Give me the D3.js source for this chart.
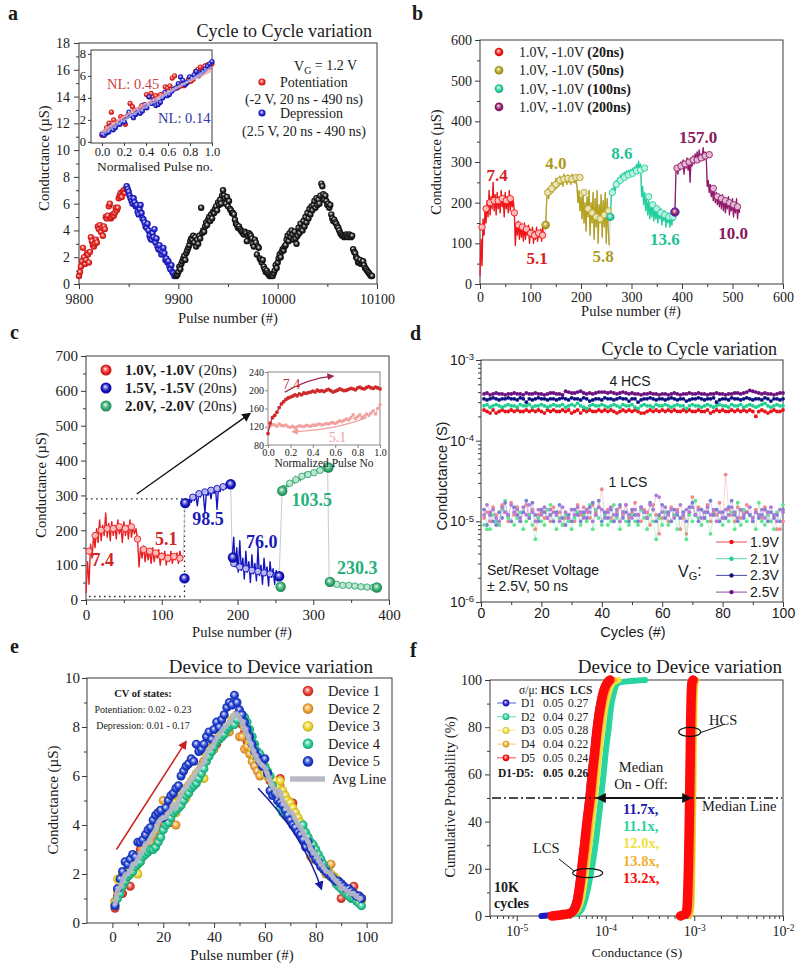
<!DOCTYPE html>
<html><head><meta charset="utf-8">
<script src="https://cdn.jsdelivr.net/npm/d3@7/dist/d3.min.js"></script>
<style>html,body{margin:0;padding:0;background:#fff;}svg{display:block;}</style>
</head><body>
<script>
// ================= DATA =================
// ---- Panel a ----
const aRedStart = 9800, aBlueStart = 9848, aBlackStart = 9898;
const aRed = [0.6,0.9,1.3,1.7,2.7,2.0,1.5,1.8,2.3,2.2,
  1.6,2.4,3.5,3.2,2.9,2.8,3.0,3.3,3.1,4.3,
  4.1,4.4,3.9,4.2,3.6,4.3,4.1,5.0,4.9,5.1,
  5.8,6.0,4.9,5.0,5.2,5.1,5.3,5.7,5.5,5.7,
  6.4,6.6,6.8,6.5,6.9,7.0,6.8,7.1];
const aBlue = [7.3,7.1,6.9,6.6,6.4,6.2,6.0,6.4,6.1,5.8,
  5.9,5.4,5.2,5.6,5.9,5.3,4.9,4.8,4.6,4.3,
  4.2,4.5,4.0,3.6,3.4,3.3,3.8,3.5,4.1,3.1,
  3.4,2.8,2.6,2.9,2.5,2.2,2.4,2.7,2.3,1.8,
  1.9,1.6,1.7,1.3,1.1,1.4,0.9,0.8,0.6,0.7];
const aBlack = [0.6,0.7,0.9,1.3,1.1,1.5,1.7,1.9,2.1,1.8,
  2.3,2.5,2.7,2.9,3.2,3.4,3.3,3.6,3.1,3.5,
  2.8,3.3,3.0,3.6,3.4,5.7,3.8,4.0,3.9,4.3,
  4.6,4.4,4.8,5.0,4.7,5.2,4.9,5.4,5.3,5.6,
  5.8,5.5,6.1,5.9,6.3,6.0,6.6,7.0,6.6,6.4,
  6.0,6.5,5.8,6.2,5.6,5.5,5.3,5.3,5.2,4.8,
  4.5,4.4,4.2,4.3,4.1,4.0,3.9,3.8,3.7,3.9,
  3.8,3.2,3.6,3.8,3.7,3.6,3.4,3.0,2.8,3.3,
  3.1,2.2,2.8,2.7,1.9,1.8,1.6,1.8,1.3,1.1,
  0.9,1.0,0.8,0.7,0.6,0.6,0.7,0.6,0.8,1.0,
  1.4,1.2,1.6,1.9,2.2,2.0,2.4,2.6,2.5,2.8,
  2.9,3.3,3.6,3.2,3.8,3.5,4.0,3.7,3.3,3.9,
  3.4,3.0,3.6,4.2,3.8,4.5,4.1,4.0,4.7,4.3,
  5.0,4.6,5.3,4.9,5.6,5.2,5.8,5.5,5.9,6.2,
  5.7,6.4,5.9,6.3,6.0,6.6,7.5,7.3,6.7,6.3,
  6.6,6.2,5.9,6.0,5.7,5.9,5.2,4.9,4.7,4.8,
  4.6,4.5,4.3,4.2,4.0,3.8,3.7,3.6,3.6,3.5,
  3.6,3.7,3.6,3.5,3.7,3.6,3.5,3.6,2.6,2.4,
  2.3,2.0,1.9,1.6,1.6,1.8,1.5,1.6,1.7,1.4,
  1.2,1.1,1.0,0.9,0.8,0.7,0.6,0.6];
const aFitX = [0, 0.25, 0.5, 0.75, 1];
const aFitRed = [0.9, 2.6, 4.0, 5.3, 6.5];
const aFitBlue = [0.7, 2.3, 3.8, 5.3, 6.8];
const aXTicks = [9800, 9900, 10000, 10100], aXMinor = [9850, 9950, 10050];
const aYTicks = [0,2,4,6,8,10,12,14,16,18], aYMinor = [1,3,5,7,9,11,13,15,17];
const aInsXTicks = [0,0.2,0.4,0.6,0.8,1.0], aInsYTicks = [0,2,4,6,8];

// ---- Panel b ----
const STEP = 2, MSTEP = 8;
const bRed = [20,110,45,160,120,185,150,205,165,230,
  170,215,185,250,180,220,170,225,185,215,
  175,230,190,210,165,225,185,215,175,230,
  180,210,190,205,175,95,150,120,155,110,
  145,115,140,105,150,110,135,120,145,100,
  135,115,140,100,130,110,140,105,125,115,
  135,105,140,115,125];
const bRedMk = [140,185,200,205,205,210,205,210,175,145,140,135,125,120,125,120];
const bOlive = [145,205,235,210,240,220,250,225,245,230,
  260,235,255,240,265,245,260,240,270,250,
  262,245,268,250,260,245,270,250,262,248,
  260,240,200,230,180,215,160,225,150,200,
  130,215,165,230,120,200,150,225,110,210,
  140,230,100,195,150,220,115,205,140,225,
  100,210,130,95];
const bOliveMk = [225,235,245,255,258,260,258,262,262,225,185,175,165,160,170,180];
const bTeal = [165,215,235,220,245,230,255,240,262,245,
  268,250,272,258,275,260,278,262,280,265,
  282,268,285,270,288,275,295,280,302,285,
  295,215,240,195,225,180,215,170,205,160,
  200,165,195,155,190,160,185,150,180,160,
  185,145,175,155,180,140,170,150,175,140,
  165,145,175,155];
const bTealMk = [225,245,255,262,268,272,278,280,285,215,195,185,175,170,165,165];
const bPurple = [175,275,290,270,295,280,300,285,305,270,
  300,285,310,280,305,250,310,290,315,295,
  320,300,325,300,330,305,320,310,335,305,
  325,315,240,255,225,245,215,235,205,230,
  200,225,195,220,190,215,185,220,180,210,
  175,205,185,215,170,200,180,210,165,195,
  175,210,160,195,175];
const bPurpleMk = [285,290,295,300,305,305,310,315,318,235,215,210,205,200,195,190];
const bStarts = [0, 130, 258, 386], bMkStarts = [4, 134, 262, 390];
const bSphX = [130, 258, 386], bSphY = [145, 165, 177];
const bLabels = ["7.4","5.1","4.0","5.8","8.6","13.6","157.0","10.0"];
const bLabX = [34, 113, 150, 244, 281, 366, 432, 501];
const bLabY = [268, 64, 297, 69, 322, 111, 361, 125];
const bLegend = ["(20ns)","(50ns)","(100ns)","(200ns)"];
const bTicks = [0,100,200,300,400,500,600], bMinor = [50,150,250,350,450,550];

// ---- Panel c ----
const cBlueHi = [275,285,270,290,280,295,285,300,270,305,
  295,310,300,250,310,300,315,290,320,305,
  320,260,325,310,325,315,330,320,335,320,330];
const cBlueHiMk = [280,295,305,310,315,320,325,332];
const cBlueLo = [120,180,95,150,80,170,85,120,60,140,
  80,110,50,130,75,105,55,150,70,100,
  45,120,70,95,40,110,65,90,45,85,55,70];
const cBlueLoMk = [105,95,90,85,82,78,75,70];
const cGreenHi = [315,325,318,330,325,340,332,345,335,355,
  345,350,342,360,350,365,352,360,355,368,
  358,370,362,375,365,372,368,380,370,382,378];
const cGreenHiMk = [320,335,345,355,360,365,372,378];
const cGreenLo = [50,45,52,42,48,40,47,38,45,42,
  36,44,40,35,43,38,45,36,40,34,
  42,36,40,33,38,35,40,32,37,34,38,33];
const cGreenLoMk = [48,45,42,42,40,38,37,36];
const cStarts = [0, 131, 193, 259, 321], cMkStarts = [4, 133, 195, 261, 323];
const cSphX = [130, 131, 191, 194, 255, 257, 259, 320, 322, 384];
const cSphY = [62, 278, 332, 122, 68, 38, 313, 380, 52, 36];
const cSphC = [1, 1, 1, 1, 1, 2, 2, 2, 2, 2];
const cBoxX = [0, 130], cBoxY = [10, 290];
const cArrowX = [67, 216], cArrowY = [304, 534];
const cLabels = ["7.4","5.1","98.5","76.0","103.5","230.3"];
const cLabX = [22, 106, 161, 232, 298, 358];
const cLabY = [115, 175, 232, 166, 287, 92];
const cLabC = [0, 0, 1, 1, 2, 2];
const cLegendBold = ["1.0V, -1.0V","1.5V, -1.5V","2.0V, -2.0V"];
const cTicksX = [0,100,200,300,400], cMinorX = [50,150,250,350];
const cTicksY = [0,100,200,300,400,500,600,700], cMinorY = [50,150,250,350,450,550,650];
const cInsStep = 0.02;
const cInsRed = [105,128,140,145,152,162,170,175,180,183,
  185,187,190,188,192,190,194,193,195,196,
  198,196,200,198,199,197,200,202,199,196,
  198,200,203,201,199,200,202,204,203,201,
  205,207,204,203,206,208,205,204,207,205,203];
const cInsPink = [118,122,125,124,121,126,123,122,124,120,
  119,121,118,120,122,121,120,123,122,121,
  124,123,125,126,124,125,127,126,128,129,
  127,130,133,131,134,137,135,140,146,138,
  142,146,140,143,148,145,150,155,148,160,168];
const cInsXTicks = [0,0.2,0.4,0.6,0.8,1.0], cInsYTicks = [80,120,160,200,240];

// ---- Panel d ---- (HCS in 1e-4 S, LCS in 1e-5 S)
const dHcs19 = [2.4,2.3,2.2,2.4,2.2,2.3,2.4,2.3,2.3,2.4, 2.3,2.4,2.3,2.3,2.4,2.3,2.4,2.3,2.4,2.3,
  2.2,2.4,2.3,2.4,2.3,2.3,2.4,2.3,2.4,2.2, 2.3,2.4,2.2,2.4,2.3,2.4,2.3,2.3,2.4,2.3,
  2.4,2.3,2.4,2.3,2.2,2.3,2.4,2.3,2.4,2.3, 2.4,2.3,2.2,2.2,2.3,2.4,2.3,2.4,2.3,2.4,
  2.3,2.4,2.3,2.4,2.3,2.3,2.4,2.3,2.4,2.3, 2.3,2.4,2.3,2.3,2.4,2.2,2.3,2.4,2.3,2.4,
  2.3,2.3,2.4,2.3,2.4,2.3,2.4,2.3,2.4,2.3, 2.0,2.3,2.4,2.3,2.2,2.3,2.4,2.3,2.3,2.4];
const dHcs21 = [2.7,2.8,2.6,2.7,2.8,2.7,2.6,2.7,2.8,2.7, 2.7,2.6,2.8,2.7,2.7,2.8,2.6,2.7,2.7,2.8,
  2.7,2.6,2.7,2.8,2.7,2.7,2.8,2.6,2.7,2.8, 2.7,2.9,2.7,2.6,2.5,2.7,2.8,2.7,2.7,2.8,
  2.7,2.6,2.7,2.8,2.7,2.6,2.8,2.7,2.7,2.8, 2.6,2.5,2.7,2.8,2.7,2.7,2.6,2.8,2.7,2.7,
  2.8,2.7,2.6,2.7,2.8,2.7,2.7,2.5,2.7,2.8, 2.7,2.7,2.6,2.7,2.8,2.7,2.6,2.7,2.8,2.7,
  2.7,2.6,2.8,2.7,2.7,2.8,2.6,2.7,2.8,2.7, 2.6,2.7,2.8,2.9,2.7,2.6,2.7,2.8,2.7,2.7];
const dHcs23 = [3.3,3.2,3.3,3.4,3.3,3.2,3.3,3.3,3.4,3.3, 3.3,3.2,3.4,3.3,3.0,3.3,3.2,3.3,3.4,3.3,
  3.3,3.2,3.3,3.3,3.2,3.3,3.4,3.3,3.2,3.4, 3.3,3.3,3.2,3.4,3.3,3.1,3.2,3.3,3.3,3.2,
  3.4,3.3,3.3,3.2,3.3,3.4,3.3,3.3,3.1,3.3, 3.3,3.0,3.2,3.3,3.3,3.4,3.3,3.2,3.3,3.3,
  3.2,3.3,3.4,3.3,3.2,3.3,3.3,3.1,3.2,3.3, 3.3,3.4,3.3,3.2,3.3,3.3,3.4,3.0,3.2,3.3,
  3.3,3.2,3.4,3.3,3.3,3.2,3.3,3.4,3.3,3.2, 3.3,3.3,3.2,3.4,3.3,3.1,3.3,3.3,3.2,3.3];
const dHcs25 = [3.8,3.9,3.7,3.8,3.9,3.8,3.8,3.7,3.8,3.8, 3.9,3.8,3.8,3.7,3.9,3.8,3.8,3.9,3.8,3.8,
  3.7,3.8,3.9,3.9,3.8,3.8,3.7,4.1,4.0,3.9, 3.9,4.0,4.1,3.9,3.8,3.9,3.8,3.9,4.0,4.0,
  4.0,3.9,4.0,3.9,3.8,3.9,4.0,3.9,3.8,3.9, 3.8,3.8,3.7,3.8,3.8,3.9,3.8,3.8,3.7,3.8,
  3.8,3.7,3.8,3.9,3.8,3.7,3.8,3.8,3.9,3.8, 3.8,3.9,3.8,3.8,3.7,3.8,3.8,3.9,3.8,3.8,
  3.7,3.8,3.8,3.9,3.9,3.8,3.9,4.0,4.2,4.1, 4.0,3.9,3.8,3.9,3.8,3.8,3.7,3.8,3.9,3.9];
const dLcs19 = [1.1,1.3,1.0,1.5,1.2,0.9,1.6,1.3,1.0,1.7, 1.2,1.5,1.0,1.3,1.6,1.1,1.4,0.8,1.2,1.3,
  1.1,1.4,1.0,1.5,1.2,1.3,0.9,1.1,1.2,1.4, 1.0,1.6,1.2,1.5,1.3,1.1,1.6,1.3,1.5,2.5,
  1.2,1.4,1.1,1.0,1.3,1.5,1.2,1.6,1.1,1.3, 1.7,1.2,1.0,1.4,1.3,0.9,1.6,1.2,0.7,1.1,
  1.3,1.0,1.5,1.2,1.4,0.8,1.1,0.7,1.3,2.0, 1.2,1.5,1.4,1.1,1.6,1.0,1.3,1.2,1.7,1.1,
  3.8,1.4,1.2,1.0,1.5,1.1,1.3,1.6,1.2,1.0, 1.4,1.2,1.1,1.5,1.3,1.0,1.2,0.8,0.8,1.0];
const dLcs21 = [0.9,0.8,0.8,1.2,1.0,0.9,1.4,1.8,1.1,1.0, 0.9,1.1,1.3,0.8,1.0,1.2,0.9,0.6,1.1,1.0,
  0.9,1.4,1.6,1.0,0.8,1.1,0.9,1.2,1.0,0.8, 1.1,1.3,0.9,1.2,1.0,1.6,0.8,1.4,1.1,0.9,
  1.2,0.9,1.0,1.6,1.1,0.8,1.3,1.0,0.9,1.2, 1.0,0.9,1.4,1.1,0.8,1.2,1.0,0.6,1.1,0.9,
  1.3,0.9,1.0,1.2,0.8,1.1,1.3,0.6,1.2,1.0, 1.8,1.1,0.9,1.3,1.0,0.7,1.2,1.4,1.0,0.9,
  1.1,1.0,1.3,0.8,1.7,0.9,1.4,1.0,1.2,1.1, 0.8,1.7,1.0,0.9,1.2,1.0,0.8,1.3,1.4,1.6];
const dLcs23 = [1.4,0.9,1.2,1.0,0.9,1.3,1.1,1.7,1.2,1.0, 1.5,1.2,1.0,1.3,1.8,1.1,1.7,1.2,1.0,1.4,
  1.3,1.1,1.2,1.0,1.3,1.6,1.1,0.9,1.2,1.0, 1.4,1.2,1.0,1.3,1.1,1.5,1.7,1.2,1.8,1.0,
  1.3,1.1,1.4,1.0,1.2,1.6,1.1,1.3,1.0,1.4, 1.2,1.0,1.5,1.3,1.1,1.7,1.4,1.0,1.2,1.6,
  1.1,1.3,1.0,1.4,1.2,1.1,1.3,1.0,1.5,1.7, 1.2,1.0,1.4,1.1,1.3,1.8,1.2,1.4,1.0,1.3,
  1.1,1.5,1.8,1.2,1.0,1.4,1.1,1.3,1.2,1.0, 1.3,1.1,1.2,1.4,1.0,1.3,1.1,1.2,1.0,1.4];
const dLcs25 = [1.2,1.6,1.3,1.4,1.1,1.0,1.5,1.3,1.2,1.6, 1.3,1.4,1.1,1.5,1.2,1.6,1.3,1.0,1.4,1.2,
  1.5,1.1,1.4,1.3,1.2,1.0,1.5,1.3,1.1,1.4, 1.2,1.5,1.3,1.1,1.4,1.3,1.0,1.2,1.5,1.4,
  1.1,1.3,1.5,1.2,1.4,1.0,1.3,1.6,1.2,1.1, 1.4,1.2,1.5,1.3,1.1,1.6,1.4,2.1,2.0,1.3,
  1.5,1.2,1.4,1.1,1.3,1.6,1.2,1.4,1.3,1.5, 1.2,1.4,1.1,1.3,1.5,1.2,1.4,1.0,1.3,1.1,
  1.4,1.2,1.5,1.3,1.1,1.4,1.2,1.3,1.5,1.1, 1.3,1.2,1.4,1.1,1.3,1.5,1.2,1.0,1.4,1.3];
const dHcsUnit = 1e-4, dLcsUnit = 1e-5;
const dLegend = ["1.9V","2.1V","2.3V","2.5V"];
const dXTicks = [0,20,40,60,80,100], dXMinor = [10,30,50,70,90];
const dYTicks = [1e-6,1e-5,1e-4,1e-3];

// ---- Panel e ----
const eD1 = [0.6,1.1,1.3,1.2,1.6,1.9,1.5,2.4,2.5,2.7, 3.0,2.9,3.2,3.3,3.5,3.6,3.8,3.9,4.1,4.0,
  4.3,4.4,4.1,4.7,4.8,5.0,5.0,5.3,5.4,5.6, 5.7,5.9,6.0,6.2,6.3,6.6,6.8,6.9,7.0,7.2,
  7.3,7.5,7.6,7.8,7.9,8.0,8.2,8.4,8.5,8.4, 8.1,7.8,7.4,7.2,7.0,6.8,6.6,6.5,6.4,6.2,
  6.0,5.8,5.6,5.4,5.2,5.9,5.0,4.8,4.7,4.6, 4.9,4.4,4.2,4.0,3.7,3.5,3.3,3.1,2.9,2.7,
  2.5,2.4,2.3,2.1,2.0,1.9,1.8,1.7,1.6,1.0, 1.4,1.3,1.3,1.2,1.5,1.1,1.1,1.0];
const eD2 = [0.9,1.3,1.4,1.8,1.9,2.0,2.2,2.3,2.4,2.6, 2.8,3.0,3.2,3.4,3.3,3.6,3.8,4.3,4.4,5.0,
  4.4,4.6,4.8,4.9,4.0,5.0,5.2,5.4,5.5,5.6, 5.6,5.8,5.9,6.2,6.4,6.6,6.8,7.0,7.2,7.1,
  7.4,7.6,7.8,7.9,8.0,7.8,8.2,8.4,8.5,7.6, 7.6,7.1,7.2,6.9,6.6,6.4,6.2,6.0,6.5,6.3,
  6.1,5.9,5.6,5.5,5.3,5.6,5.2,5.1,4.9,4.7, 4.6,4.3,4.1,3.9,3.8,3.5,3.2,2.7,2.6,2.9,
  2.5,2.3,2.2,2.0,2.3,2.4,1.9,1.8,1.7,1.6, 1.5,1.4,1.3,1.2,1.2,1.1,1.1,1.0];
const eD3 = [0.8,1.8,1.6,2.0,2.1,1.9,2.2,2.4,2.2,2.0, 2.5,2.8,3.4,3.0,3.6,3.8,3.9,4.5,4.6,4.3,
  4.2,4.4,4.6,4.9,4.5,4.7,5.3,5.4,5.1,5.6, 5.8,5.9,6.1,6.2,6.3,5.9,6.8,7.0,7.1,7.3,
  7.5,7.7,7.9,8.0,7.9,8.0,8.3,8.4,8.4,8.6, 8.4,8.0,7.8,7.4,7.1,6.8,6.7,6.6,6.3,6.1,
  6.0,5.9,5.7,5.8,5.6,5.8,5.4,5.2,5.0,4.9, 4.7,4.5,4.3,4.1,3.8,3.6,3.4,3.2,3.0,2.8,
  2.7,2.5,2.4,2.2,2.1,2.0,1.9,1.8,1.6,1.5, 1.4,1.3,1.2,1.2,1.1,1.1,1.0,0.9];
const eD4 = [0.7,1.0,1.2,1.5,1.7,1.9,2.0,2.1,2.3,2.4, 2.5,2.7,2.8,2.9,3.0,3.0,3.1,3.3,3.5,3.8,
  4.0,4.1,4.3,4.5,4.6,4.7,4.8,5.0,5.2,5.3, 5.5,5.6,5.7,5.9,6.1,6.3,6.6,6.8,7.0,7.2,
  7.4,7.5,7.6,7.7,7.9,8.0,8.1,8.1,8.3,8.5, 8.5,8.4,8.2,7.9,7.6,7.3,7.0,6.9,6.6,6.4,
  6.2,6.0,5.6,5.3,5.0,4.7,4.5,4.4,4.3,4.2, 4.1,4.0,3.9,3.8,4.0,3.7,3.5,3.3,3.2,3.0,
  2.8,2.6,2.4,2.2,2.0,1.9,1.8,1.6,1.5,1.4, 1.3,1.2,1.1,1.0,1.0,0.9,0.8,0.7];
const eD5 = [0.7,1.4,1.8,2.1,2.5,2.4,2.6,2.8,2.7,3.3, 3.3,3.4,3.6,3.8,3.9,4.2,4.4,4.5,4.6,4.3,
  4.7,5.0,5.2,5.3,5.5,5.6,6.0,6.2,6.4,6.5, 6.7,6.6,7.3,7.0,7.1,7.3,7.6,7.8,7.5,7.9,
  8.2,8.0,8.3,8.5,8.8,9.0,8.9,9.3,9.0,8.7, 8.5,8.2,7.9,7.6,7.3,7.0,6.8,6.6,6.4,6.7,
  6.1,5.4,5.2,5.3,5.0,4.9,4.8,4.6,4.4,4.2, 4.0,3.9,3.7,3.6,3.4,3.1,3.3,3.0,2.8,2.6,
  2.5,2.3,2.2,2.1,2.0,1.9,1.8,1.7,1.7,1.6, 1.5,1.4,1.4,1.3,1.2,1.1,1.1,1.0];
const eFirstPulse = 1;
const eLegend = ["Device 1","Device 2","Device 3","Device 4","Device 5"];
const eXTicks = [0,20,40,60,80,100], eXMinor = [10,30,50,70,90];
const eYTicks = [0,2,4,6,8,10], eYMinor = [1,3,5,7,9];

// ---- Panel f ---- (cumulative probability % vs conductance S)
const fP = [0,1,2,5,10,20,30,40,50,60,70,80,90,95,98,99,100];
const fLcsD1 = [1.9e-5,3.7e-5,4.1e-5,4.5e-5,4.8e-5,5.2e-5,5.6e-5,6.0e-5,6.4e-5,6.8e-5,7.3e-5,7.8e-5,8.5e-5,9.2e-5,9.9e-5,1.04e-4,1.09e-4];
const fLcsD2 = [3.0e-5,4.8e-5,5.2e-5,5.7e-5,6.2e-5,7.0e-5,7.7e-5,8.3e-5,8.9e-5,9.5e-5,1.01e-4,1.09e-4,1.17e-4,1.25e-4,1.33e-4,1.45e-4,2.8e-4];
const fLcsD3 = [2.6e-5,4.3e-5,4.7e-5,5.2e-5,5.6e-5,6.1e-5,6.6e-5,7.1e-5,7.6e-5,8.1e-5,8.6e-5,9.3e-5,1.02e-4,1.1e-4,1.18e-4,1.24e-4,1.4e-4];
const fLcsD4 = [2.4e-5,4.1e-5,4.5e-5,5.0e-5,5.3e-5,5.8e-5,6.3e-5,6.7e-5,7.2e-5,7.6e-5,8.1e-5,8.7e-5,9.6e-5,1.03e-4,1.1e-4,1.15e-4,1.25e-4];
const fLcsD5 = [2.5e-5,3.9e-5,4.3e-5,4.7e-5,5.0e-5,5.4e-5,5.8e-5,6.2e-5,6.7e-5,7.1e-5,7.6e-5,8.1e-5,8.9e-5,9.5e-5,1.02e-4,1.06e-4,1.12e-4];
const fHcsD1 = [8.0e-4,8.3e-4,8.4e-4,8.55e-4,8.65e-4,8.75e-4,8.85e-4,8.9e-4,8.95e-4,9.0e-4,9.1e-4,9.15e-4,9.25e-4,9.3e-4,9.4e-4,9.45e-4,9.6e-4];
const fHcsD2 = [8.3e-4,8.6e-4,8.7e-4,8.9e-4,9.0e-4,9.1e-4,9.2e-4,9.25e-4,9.3e-4,9.4e-4,9.45e-4,9.5e-4,9.6e-4,9.7e-4,9.8e-4,9.85e-4,1.0e-3];
const fHcsD3 = [8.8e-4,9.1e-4,9.2e-4,9.35e-4,9.45e-4,9.55e-4,9.65e-4,9.7e-4,9.8e-4,9.85e-4,9.9e-4,1.0e-3,1.01e-3,1.02e-3,1.03e-3,1.04e-3,1.06e-3];
const fHcsD4 = [8.6e-4,8.9e-4,9.0e-4,9.15e-4,9.25e-4,9.35e-4,9.45e-4,9.5e-4,9.6e-4,9.65e-4,9.7e-4,9.8e-4,9.9e-4,1.0e-3,1.01e-3,1.02e-3,1.05e-3];
const fHcsD5 = [7.0e-4,8.0e-4,8.2e-4,8.35e-4,8.45e-4,8.6e-4,8.7e-4,8.8e-4,8.87e-4,8.95e-4,9.03e-4,9.1e-4,9.2e-4,9.28e-4,9.38e-4,9.45e-4,9.7e-4];
const fDevices = ["D1","D2","D3","D4","D5"];
const fHcsCV = ["0.05","0.04","0.05","0.04","0.05"];
const fLcsCV = ["0.27","0.27","0.28","0.22","0.24"];
const fRatios = ["11.7x,","11.1x,","12.0x,","13.8x,","13.2x,"];
const fMedianLow = 8.2e-5, fMedianHigh = 9.0e-4, fMedianP = 50;
const fXTicks = [1e-5,1e-4,1e-3,1e-2];
const fYTicks = [0,20,40,60,80,100], fYMinor = [10,30,50,70,90];

// ================= STYLE =================
const SERIF = '"Liberation Serif","Times New Roman",Times,serif';
const SANS = '"Liberation Sans",Arial,Helvetica,sans-serif';
const A_COL = {red:"#e8201c", blue:"#1c1cd0", black:"#151515"};
const B_COL = ["#f21414","#b5a11a","#22cf9f","#94186a"];
const B_LAB = ["#d42222","#ad9a1c","#1fc196","#8a1760"];
const C_COL = ["#ee1c1c","#1212c2","#2ea86c"];
const C_LAB = ["#cf2626","#1a1ab8","#27b07a"];
const D_HCS = ["#e8141c","#1ecf90","#101080","#6c1080"];
const D_LCS = ["#f28a8a","#5ee68e","#7a82d8","#b27ad8"];
const E_COL = ["#e63a2e","#f0a030","#eed424","#22c88e","#1a3ad0"];
const F_COL = ["#1a1ac8","#28d4a0","#f2e040","#f0b030","#ff0a0a"];

// ================= HELPERS =================
const svg = d3.select("body").append("svg").attr("width",798).attr("height",968);
svg.append("rect").attr("width",798).attr("height",968).attr("fill","#fff");
const defs = svg.append("defs");
const gradCache = {};
function sph(color){
  if (gradCache[color]) return gradCache[color];
  const id = "sg" + Object.keys(gradCache).length;
  const g = defs.append("radialGradient").attr("id",id).attr("cx","50%").attr("cy","50%").attr("r","55%").attr("fx","42%").attr("fy","36%");
  g.append("stop").attr("offset","0%").attr("stop-color","#ffffff");
  g.append("stop").attr("offset","28%").attr("stop-color",d3.interpolateRgb(color,"#fff")(0.45));
  g.append("stop").attr("offset","62%").attr("stop-color",color);
  g.append("stop").attr("offset","100%").attr("stop-color",d3.color(color).darker(0.9).formatHex());
  return gradCache[color] = `url(#${id})`;
}
function arrowHead(id, color, size){
  defs.append("marker").attr("id",id).attr("viewBox","0 0 10 10").attr("refX",8).attr("refY",5)
    .attr("markerWidth",size).attr("markerHeight",size).attr("markerUnits","userSpaceOnUse")
    .attr("orient","auto-start-reverse").append("path").attr("d","M0,0L10,5L0,10z").attr("fill",color);
}
arrowHead("ahBlack","#111",9); arrowHead("ahRed","#cc1f1f",9); arrowHead("ahBlue","#1a1aa0",9);
arrowHead("ahDark","#a02848",7); arrowHead("ahPink","#eea0a0",7); arrowHead("ahMed","#111",10);

function T(x,y,s,o={}){
  const t = svg.append("text").attr("x",x).attr("y",y)
    .attr("font-family",o.font||SERIF).attr("font-size",o.fs||14)
    .attr("font-weight",o.fw||"normal").attr("fill",o.fill||"#1a1a1a")
    .attr("text-anchor",o.a||"start");
  if (o.rot) t.attr("transform",`rotate(${o.rot},${x},${y})`);
  if (s != null) t.text(s);
  return t;
}
function supLabels(sel){
  sel.selectAll(".tick text").each(function(d){
    const t = d3.select(this); t.text("10");
    t.append("tspan").attr("dy","-0.5em").attr("font-size","0.68em").text(Math.round(Math.log10(d)));
  });
}
function frame(x, y, o){
  const g = svg.append("g");
  const [xl,xr] = x.range(), [yb,yt] = y.range();
  const col = o.col || "#3a3a3a";
  const st = s => { s.select(".domain").remove(); s.selectAll("line").attr("stroke",col);
    s.attr("font-family",o.font||SERIF).attr("font-size",o.fs||14); s.selectAll("text").attr("fill","#1a1a1a"); };
  const ts = o.ts || 5;
  const bx = g.append("g").attr("transform",`translate(0,${yb})`)
    .call(d3.axisBottom(x).tickValues(o.xt).tickSize(ts).tickSizeOuter(0).tickPadding(o.xp ?? 2).tickFormat(o.xf || (d=>d))).call(st);
  if (o.xlog) supLabels(bx);
  if (o.xm) g.append("g").attr("transform",`translate(0,${yb})`).call(d3.axisBottom(x).tickValues(o.xm).tickSize(ts*0.6).tickFormat("")).call(st);
  const ly = g.append("g").attr("transform",`translate(${xl},0)`)
    .call(d3.axisLeft(y).tickValues(o.yt).tickSize(ts).tickSizeOuter(0).tickPadding(o.yp ?? 2).tickFormat(o.yf || (d=>d))).call(st);
  if (o.ylog) supLabels(ly);
  if (o.ym) g.append("g").attr("transform",`translate(${xl},0)`).call(d3.axisLeft(y).tickValues(o.ym).tickSize(ts*0.6).tickFormat("")).call(st);
  g.append("rect").attr("x",xl).attr("y",yt).attr("width",xr-xl).attr("height",yb-yt)
    .attr("fill","none").attr("stroke",col).attr("stroke-width",o.sw||1);
  return g;
}
function logMinor(e0, e1, extra){
  const out = extra ? extra.slice() : [];
  for (let e=e0; e<e1; e++) for (let k=2; k<=9; k++) out.push(k*Math.pow(10,e));
  return out;
}
function balls(data, xs, ys, fx, fy, color, r){
  svg.append("g").selectAll("circle").data(data).join("circle")
    .attr("cx",(d,i)=>xs(fx(d,i))).attr("cy",(d,i)=>ys(fy(d,i))).attr("r",r).attr("fill",sph(color));
}

// ================= PANEL a =================
T(8,20,"a",{fs:20,fw:"bold"});
const ax = d3.scaleLinear().domain([9800,10100]).range([79,377]);
const ay = d3.scaleLinear().domain([0,18]).range([284,43]);
frame(ax, ay, {xt:aXTicks, xm:aXMinor, yt:aYTicks, ym:aYMinor, fs:14, xp:5, yp:4});
balls(aRed, ax, ay, (d,i)=>aRedStart+i, d=>d, A_COL.red, 3.2);
balls(aBlue, ax, ay, (d,i)=>aBlueStart+i, d=>d, A_COL.blue, 3.2);
balls(aBlack, ax, ay, (d,i)=>aBlackStart+i, d=>d, A_COL.black, 3.2);
T(372,37,"Cycle to Cycle variation",{fs:18,a:"end"});
T(228,323,"Pulse number (#)",{fs:14.5,a:"middle"});
T(49,158,"Conductance (µS)",{fs:14.5,a:"middle",rot:-90});
{ const t = T(294,71,"V",{fs:14}); t.append("tspan").attr("dy","0.3em").attr("font-size","10").text("G");
  t.append("tspan").attr("dy","-0.3em").text(" = 1.2 V"); }
svg.append("circle").attr("cx",262).attr("cy",82).attr("r",3.6).attr("fill",sph(A_COL.red));
T(280,87,"Potentiation",{fs:14}); T(304,104,"(-2 V, 20 ns - 490 ns)",{fs:14,a:"middle"});
svg.append("circle").attr("cx",262).attr("cy",113).attr("r",3.6).attr("fill",sph(A_COL.blue));
T(280,118,"Depression",{fs:14}); T(304,136,"(2.5 V, 20 ns - 490 ns)",{fs:14,a:"middle"});
// inset a
const aix = d3.scaleLinear().domain([-0.1,1.0]).range([91,212]);
const aiy = d3.scaleLinear().domain([-0.1,8.35]).range([143,50]);
svg.append("rect").attr("x",91).attr("y",50).attr("width",121).attr("height",93).attr("fill","#fff");
frame(aix, aiy, {xt:aInsXTicks, yt:aInsYTicks, xf:d3.format(".1f"), fs:12.5, ts:3, xp:1, yp:2});
balls(aRed, aix, aiy, (d,i)=>i/(aRed.length-1), d=>d, A_COL.red, 2.6);
balls(aBlue.slice().reverse(), aix, aiy, (d,i)=>i/(aBlue.length-1), d=>d, A_COL.blue, 2.6);
const aFitLine = d3.line().x((d,i)=>aix(aFitX[i])).y(d=>aiy(d)).curve(d3.curveMonotoneX);
svg.append("path").attr("d",aFitLine(aFitRed)).attr("fill","none").attr("stroke","#f2a6a6").attr("stroke-width",2.2).attr("opacity",0.85);
svg.append("path").attr("d",aFitLine(aFitBlue)).attr("fill","none").attr("stroke","#a8a8e8").attr("stroke-width",2.2).attr("opacity",0.8);
T(aix(0.045),aiy(5.3)+5,"NL: 0.45",{fs:14.5,fill:"#c94444"});
T(aix(0.51),aiy(2.15)+5,"NL: 0.14",{fs:14.5,fill:"#3434a6"});
T(155,171,"Normalised Pulse no.",{fs:13.5,a:"middle"});

// ================= PANEL b =================
T(412,20,"b",{fs:20,fw:"bold"});
const bx = d3.scaleLinear().domain([0,600]).range([480,783]);
const by = d3.scaleLinear().domain([0,600]).range([284,40]);
frame(bx, by, {xt:bTicks, xm:bMinor, yt:bTicks, ym:bMinor, fs:14, xp:3, yp:3});
const bVals = [bRed, bOlive, bTeal, bPurple], bMks = [bRedMk, bOliveMk, bTealMk, bPurpleMk];
function segLines(xs, ys, valsList, starts, mks, mkStarts, cols){
  const all = [];
  valsList.forEach((v,k)=> v.forEach((d,i)=> all.push([starts[k]+i*STEP, d])));
  svg.append("path").attr("d", d3.line().x(d=>xs(d[0])).y(d=>ys(d[1]))(all))
    .attr("fill","none").attr("stroke","#b4bcd8").attr("stroke-width",0.8);
  valsList.forEach((v,k)=>{
    svg.append("path").attr("d", d3.line().x((d,i)=>xs(starts[k]+i*STEP)).y(d=>ys(d))(v))
      .attr("fill","none").attr("stroke",cols[k]).attr("stroke-width",1.3).attr("stroke-linejoin","round");
  });
  mks.forEach((m,k)=>{
    svg.append("g").selectAll("circle").data(m).join("circle")
      .attr("cx",(d,i)=>xs(mkStarts[k]+i*MSTEP)).attr("cy",d=>ys(d)).attr("r",3.2)
      .attr("fill",d3.interpolateRgb(cols[k],"#fff")(0.7)).attr("stroke",cols[k]).attr("stroke-width",0.9);
  });
}
segLines(bx, by, bVals, bStarts, bMks, bMkStarts, B_COL);
bSphX.forEach((d,i)=> svg.append("circle").attr("cx",bx(d)).attr("cy",by(bSphY[i])).attr("r",4.2).attr("fill",sph(B_COL[i+1])).attr("stroke",i===2?"#3a3ad0":"none").attr("stroke-width",1));
bLabels.forEach((s,i)=> T(bx(bLabX[i]), by(bLabY[i])+6, s, {fs:17, fw:"bold", a:"middle", fill:B_LAB[Math.floor(i/2)]}));
bLegend.forEach((s,i)=>{
  const yy = 52 + i*18.3;
  svg.append("circle").attr("cx",499).attr("cy",yy).attr("r",4.3).attr("fill",sph(B_COL[i]));
  const t = T(519, yy+5, "1.0V, -1.0V ", {fs:14});
  t.append("tspan").attr("font-weight","bold").text(s);
});
T(631,316,"Pulse number (#)",{fs:14.5,a:"middle"});
T(441,162,"Conductance (µS)",{fs:14.5,a:"middle",rot:-90});

// ================= PANEL c =================
T(10,339,"c",{fs:20,fw:"bold"});
const cx = d3.scaleLinear().domain([0,400]).range([86,389]);
const cy = d3.scaleLinear().domain([0,700]).range([600,356]);
frame(cx, cy, {xt:cTicksX, xm:cMinorX, yt:cTicksY, ym:cMinorY, fs:15, xp:4, yp:3});
svg.append("path").attr("d",`M${cx(cBoxX[0])},${cy(cBoxY[1])}H${cx(cBoxX[1])}V${cy(cBoxY[0])}H${cx(cBoxX[0])}`)
  .attr("fill","none").attr("stroke","#222").attr("stroke-width",1.3).attr("stroke-dasharray","1.5,3.5");
const cVals = [bRed, cBlueHi, cBlueLo, cGreenHi, cGreenLo];
const cMks = [bRedMk, cBlueHiMk, cBlueLoMk, cGreenHiMk, cGreenLoMk];
const cSegCol = [C_COL[0], C_COL[1], C_COL[1], C_COL[2], C_COL[2]];
segLines(cx, cy, cVals, cStarts, cMks, cMkStarts, cSegCol);
cSphX.forEach((d,i)=> svg.append("circle").attr("cx",cx(d)).attr("cy",cy(cSphY[i])).attr("r",5.2).attr("fill",sph(C_COL[cSphC[i]])));
svg.append("line").attr("x1",cx(cArrowX[0])).attr("y1",cy(cArrowY[0])).attr("x2",cx(cArrowX[1])).attr("y2",cy(cArrowY[1]))
  .attr("stroke","#111").attr("stroke-width",1.3).attr("marker-end","url(#ahBlack)");
cLabels.forEach((s,i)=> T(cx(cLabX[i]), cy(cLabY[i])+6, s, {fs:18, fw:"bold", a:"middle", fill:C_LAB[cLabC[i]]}));
cLegendBold.forEach((s,i)=>{
  const yy = 370 + i*18;
  svg.append("circle").attr("cx",106).attr("cy",yy).attr("r",5.5).attr("fill",sph(C_COL[i]));
  const t = T(125, yy+5, null, {fs:15});
  t.append("tspan").attr("font-weight","bold").text(s);
  t.append("tspan").text(" (20ns)");
});
T(242,637,"Pulse number (#)",{fs:14.5,a:"middle"});
T(46,485,"Conductance (µS)",{fs:14.5,a:"middle",rot:-90});
// inset c
const cix = d3.scaleLinear().domain([0,1]).range([268,380]);
const ciy = d3.scaleLinear().domain([80,240]).range([445,372]);
svg.append("rect").attr("x",268).attr("y",372).attr("width",112).attr("height",73).attr("fill","#fff");
frame(cix, ciy, {xt:cInsXTicks, yt:cInsYTicks, xf:d3.format(".1f"), fs:10, ts:3, xp:1, yp:1, col:"#888"});
const ciLine = d3.line().x((d,i)=>cix(i*cInsStep)).y(d=>ciy(d));
svg.append("path").attr("d",ciLine(cInsPink)).attr("fill","none").attr("stroke","#f4b0b0").attr("stroke-width",1);
svg.append("g").selectAll("circle").data(cInsPink).join("circle").attr("cx",(d,i)=>cix(i*cInsStep)).attr("cy",d=>ciy(d)).attr("r",1.8).attr("fill","#f2a0a0");
svg.append("path").attr("d",ciLine(cInsRed)).attr("fill","none").attr("stroke","#b0283c").attr("stroke-width",1.2);
svg.append("g").selectAll("circle").data(cInsRed).join("circle").attr("cx",(d,i)=>cix(i*cInsStep)).attr("cy",d=>ciy(d)).attr("r",1.9).attr("fill","#d02a2a");
svg.append("path").attr("d",`M${cix(0.15)},${ciy(196)}Q${cix(0.36)},${ciy(226)} ${cix(0.58)},${ciy(231)}`)
  .attr("fill","none").attr("stroke","#a02848").attr("stroke-width",1.3).attr("marker-end","url(#ahDark)");
svg.append("path").attr("d",`M${cix(0.88)},${ciy(140)}Q${cix(0.6)},${ciy(113)} ${cix(0.22)},${ciy(109)}`)
  .attr("fill","none").attr("stroke","#eea0a0").attr("stroke-width",1.3).attr("marker-end","url(#ahPink)");
T(cix(0.21),ciy(214)+5,"7.4",{fs:14,a:"middle",fill:"#c43040"});
T(cix(0.62),ciy(98)+5,"5.1",{fs:14,a:"middle",fill:"#eea0a0"});
T(324,467,"Normalized Pulse No",{fs:11.5,a:"middle"});

// ================= PANEL d =================
T(410,340,"d",{fs:20,fw:"bold"});
const dx = d3.scaleLinear().domain([0,100]).range([481,783]);
const dy = d3.scaleLog().domain([1e-6,1e-3]).range([602,360]);
frame(dx, dy, {xt:dXTicks, xm:dXMinor, yt:dYTicks, ym:logMinor(-6,-3), yf:()=>"", ylog:true, font:SANS, fs:14, xp:1, yp:2});
const dLcs = [dLcs19, dLcs21, dLcs23, dLcs25], dHcs = [dHcs19, dHcs21, dHcs23, dHcs25];
function dSeries(vals, unit, col, r, w, op){
  svg.append("path").attr("d", d3.line().x((d,i)=>dx(i+1)).y(d=>dy(d*unit))(vals))
    .attr("fill","none").attr("stroke",col).attr("stroke-width",w).attr("opacity",op);
  svg.append("g").selectAll("circle").data(vals).join("circle").attr("cx",(d,i)=>dx(i+1)).attr("cy",d=>dy(d*unit)).attr("r",r).attr("fill",col);
}
dLcs.forEach((v,k)=> dSeries(v, dLcsUnit, D_LCS[k], 1.9, 0.6, 0.6));
dHcs.forEach((v,k)=> dSeries(v, dHcsUnit, D_HCS[k], 1.9, 0.8, 0.7));
T(777,355,"Cycle to Cycle variation",{fs:18,a:"end"});
T(630,386,"4 HCS",{font:SANS,fs:14,a:"middle"});
T(628,487,"1 LCS",{font:SANS,fs:14,a:"middle"});
T(487,575,"Set/Reset Voltage",{font:SANS,fs:14});
T(487,591,"± 2.5V, 50 ns",{font:SANS,fs:14});
{ const t = T(678,577,"V",{font:SANS,fs:16}); t.append("tspan").attr("dy","0.3em").attr("font-size","11").text("G");
  t.append("tspan").attr("dy","-0.3em").text(":"); }
dLegend.forEach((s,i)=>{
  const yy = 542 + i*16.7;
  svg.append("line").attr("x1",716).attr("x2",747).attr("y1",yy).attr("y2",yy).attr("stroke",D_HCS[i]).attr("stroke-width",1).attr("opacity",0.75);
  svg.append("circle").attr("cx",731.5).attr("cy",yy).attr("r",2.2).attr("fill",D_HCS[i]);
  T(750,yy+5,s,{font:SANS,fs:14});
});
T(633,637,"Cycles (#)",{font:SANS,fs:14.5,a:"middle"});
T(447,476,"Conductance (S)",{font:SANS,fs:14.5,a:"middle",rot:-90});

// ================= PANEL e =================
T(10,653,"e",{fs:20,fw:"bold"});
const ex = d3.scaleLinear().domain([-10,110]).range([87,392]);
const ey = d3.scaleLinear().domain([0,10]).range([923,678]);
frame(ex, ey, {xt:eXTicks, xm:eXMinor, yt:eYTicks, ym:eYMinor, fs:15, xp:3, yp:2});
const eDev = [eD1, eD2, eD3, eD4, eD5];
eDev.forEach((v,k)=> balls(v, ex, ey, (d,i)=>eFirstPulse+i, d=>d, E_COL[k], 4.5));
const eAvg = eD1.map((d,i)=> d3.mean(eDev, v=>v[i]));
svg.append("path").attr("d", d3.line().x((d,i)=>ex(eFirstPulse+i)).y(d=>ey(d))(eAvg))
  .attr("fill","none").attr("stroke","#b8b8c6").attr("stroke-width",5).attr("stroke-linejoin","round").attr("opacity",0.92);
svg.append("line").attr("x1",ex(1.6)).attr("y1",ey(3.0)).attr("x2",ex(28.9)).attr("y2",ey(7.4))
  .attr("stroke","#cc1f1f").attr("stroke-width",1.5).attr("marker-end","url(#ahRed)");
svg.append("path").attr("d",`M${ex(57.3)},${ey(5.5)}Q${ex(75)},${ey(3.6)} ${ex(82.2)},${ey(1.4)}`)
  .attr("fill","none").attr("stroke","#1a1aa0").attr("stroke-width",1.5).attr("marker-end","url(#ahBlue)");
T(373,673,"Device to Device variation",{fs:19,a:"end"});
T(143,697,"CV of states:",{fs:10.5,fw:"bold",a:"middle"});
T(143,713,"Potentiation: 0.02 - 0.23",{fs:10,a:"middle"});
T(143,729,"Depression: 0.01 - 0.17",{fs:10,a:"middle"});
eLegend.forEach((s,i)=>{
  const yy = 691 + i*17.6;
  svg.append("circle").attr("cx",308).attr("cy",yy).attr("r",5.3).attr("fill",sph(E_COL[i]));
  T(328,yy+5,s,{fs:14.5});
});
svg.append("line").attr("x1",290).attr("x2",325).attr("y1",779).attr("y2",779).attr("stroke","#b8b8c6").attr("stroke-width",5.5);
T(332,784,"Avg Line",{fs:14.5});
T(242,960,"Pulse number (#)",{fs:15,a:"middle"});
T(58,800,"Conductance (µS)",{fs:15,a:"middle",rot:-90});

// ================= PANEL f =================
T(410,657,"f",{fs:20,fw:"bold"});
const fx = d3.scaleLog().domain([5e-6,1e-2]).range([490,783]);
const fy = d3.scaleLinear().domain([0,100]).range([916,680]);
frame(fx, fy, {xt:fXTicks, xm:logMinor(-5,-2,[5e-6,6e-6,7e-6,8e-6,9e-6]), xf:()=>"", xlog:true, yt:fYTicks, ym:fYMinor, fs:14, xp:5, yp:3});
const fLcs = [fLcsD1, fLcsD2, fLcsD3, fLcsD4, fLcsD5], fHcs = [fHcsD1, fHcsD2, fHcsD3, fHcsD4, fHcsD5];
const fLine = d3.line().x(d=>fx(d)).y((d,i)=>fy(fP[i])).curve(d3.curveMonotoneY);
const fOrder = [1, 2, 3, 0, 4];
fOrder.forEach(k=>{
  const w = k===4 ? 9.5 : 6;
  [fLcs[k], fHcs[k]].forEach(v=> svg.append("path").attr("d", fLine(v)).attr("fill","none")
    .attr("stroke",F_COL[k]).attr("stroke-width",w).attr("stroke-linecap","round"));
});
svg.append("line").attr("x1",492).attr("x2",782).attr("y1",fy(fMedianP)).attr("y2",fy(fMedianP))
  .attr("stroke","#111").attr("stroke-width",1.6).attr("stroke-dasharray","9,3,2,3");
svg.append("line").attr("x1",fx(fMedianLow)).attr("x2",fx(fMedianHigh)).attr("y1",fy(fMedianP)).attr("y2",fy(fMedianP))
  .attr("stroke","#111").attr("stroke-width",2).attr("marker-start","url(#ahMed)").attr("marker-end","url(#ahMed)");
svg.append("ellipse").attr("cx",fx(8.9e-4)).attr("cy",fy(78)).attr("rx",11).attr("ry",4.5).attr("fill","none").attr("stroke","#111").attr("stroke-width",1.2);
svg.append("line").attr("x1",fx(8.9e-4)+10).attr("y1",fy(78)+1).attr("x2",725).attr("y2",724).attr("stroke","#111").attr("stroke-width",1);
T(709,725,"HCS",{fs:14.5});
svg.append("ellipse").attr("cx",fx(6.3e-5)).attr("cy",fy(18.2)).attr("rx",15).attr("ry",4.5).attr("fill","none").attr("stroke","#111").attr("stroke-width",1.2);
svg.append("line").attr("x1",559).attr("y1",859).attr("x2",574).attr("y2",871).attr("stroke","#111").attr("stroke-width",1);
T(533,853,"LCS",{fs:14.5});
T(782,673,"Device to Device variation",{fs:19,a:"end"});
T(641,772,"Median",{fs:14.5,a:"middle"});
T(641,789,"On - Off:",{fs:14.5,a:"middle"});
T(702,811,"Median Line",{fs:14.5});
fRatios.forEach((s,i)=> T(623, 814 + i*17.2, s, {fs:14.5, fw:"bold", fill: i===0 ? "#1a1ab0" : F_COL[i]}));
T(494,892,"10K",{fs:14,fw:"bold"});
T(494,908,"cycles",{fs:14,fw:"bold"});
{ const t = T(519,694,"σ/μ: ",{fs:11.5}); t.append("tspan").attr("font-weight","bold").text("HCS");
  T(570,694,"LCS",{fs:11.5,fw:"bold"}); }
fDevices.forEach((s,i)=>{
  const yy = 703 + i*13.7;
  svg.append("line").attr("x1",497).attr("x2",516).attr("y1",yy).attr("y2",yy).attr("stroke",d3.interpolateRgb(F_COL[i],"#fff")(0.4)).attr("stroke-width",1.2);
  svg.append("circle").attr("cx",506).attr("cy",yy).attr("r",3.4).attr("fill",sph(F_COL[i]));
  T(521,yy+4,s,{fs:11.5}); T(543,yy+4,fHcsCV[i],{fs:11.5}); T(568,yy+4,fLcsCV[i],{fs:11.5});
});
T(498,777,"D1-D5:",{fs:11.5,fw:"bold"}); T(543,777,"0.05",{fs:11.5,fw:"bold"}); T(568,777,"0.26",{fs:11.5,fw:"bold"});
T(637,957,"Conductance (S)",{fs:13.5,a:"middle"});
T(455,797,"Cumulative Probability (%)",{fs:14.5,a:"middle",rot:-90});
</script>
</body></html>
